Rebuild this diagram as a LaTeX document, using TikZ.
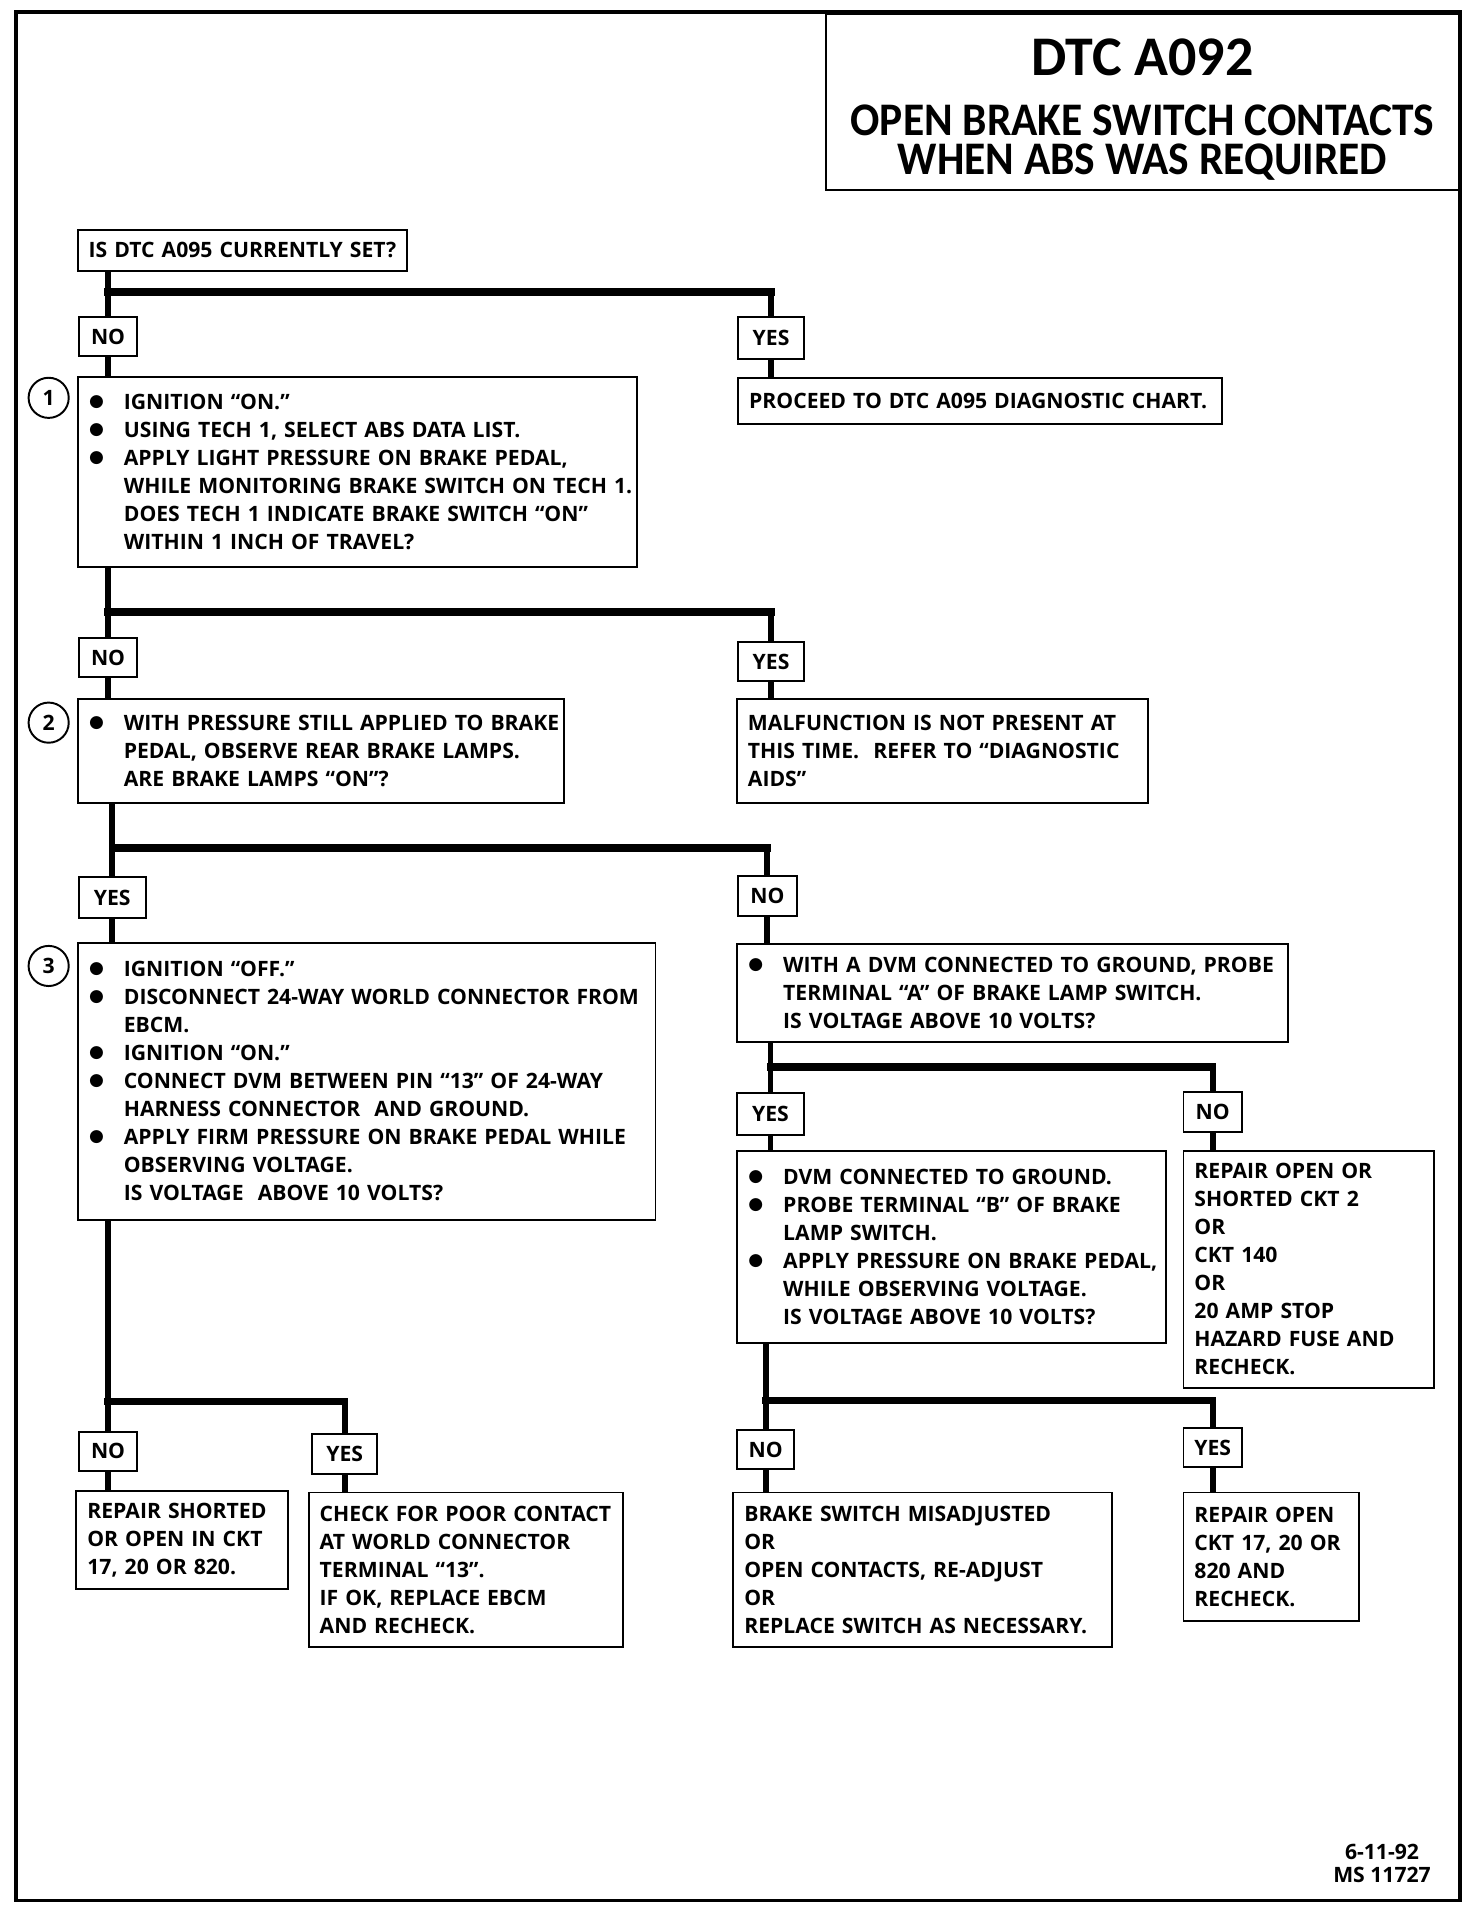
\documentclass[tikz,border=0pt]{standalone}
\usepackage{fontspec}
\usepackage{graphicx}
\setmainfont{Open Sans}
\newfontfamily\titlefont{Carlito}[FakeStretch=0.93]
\newfontfamily\titlefontb{Carlito}
\newfontfamily\dejavu{DejaVu Sans}
\newcommand\bu{\makebox[14.5pt][l]{\hspace{0.2pt}\raisebox{1.3pt}{\dejavu\fontsize{7}{7}\selectfont ●}}}
\newcommand\ind{\hspace*{14.5pt}}
\begin{document}
\begin{tikzpicture}[x=0.5pt,y=-0.5pt,
  every node/.style={font=\fontsize{8.7}{11.5}\selectfont\bfseries},
  box/.style={draw, line width=0.8pt, anchor=north west, inner xsep=0pt, inner ysep=0pt, align=left,
    execute at begin node={\leftskip=4.5pt\rightskip=-40pt plus 1fil\relax}},
  lbl/.style={draw, line width=0.8pt, anchor=north west, inner sep=0pt, align=center},
  num/.style={draw, circle, line width=0.8pt, minimum size=16.5pt, inner sep=0pt},
  conn/.style={line width=2.4pt},
  bar/.style={line width=3pt, line cap=rect},
  frame/.style={line width=1.4pt}]
\useasboundingbox (0,0) rectangle (1210,1570);
\draw[frame] (13,10) rectangle (1200,1562);
\node[draw, line width=1pt, anchor=north west, minimum width=261pt, minimum height=72.5pt, inner sep=0pt] (title) at (678,10) {};
\node[align=center, inner sep=0pt, font=\titlefont\bfseries\fontsize{19.2}{16}\selectfont] (titletext) at (939,90)
  {{\titlefontb\bfseries\fontsize{23}{16}\selectfont DTC A092}\\[8.5pt]OPEN BRAKE SWITCH CONTACTS\\WHEN ABS WAS REQUIRED};

% nodes
\node[box, minimum width=135.5pt, minimum height=17pt, text width=135.5pt] (q0) at (63,188) {IS DTC A095 CURRENTLY SET?};
\node[lbl, minimum width=24pt, minimum height=16pt] (n1) at (64,260) {NO};
\node[lbl, minimum width=27pt, minimum height=17pt] (y1) at (606,260) {YES};
\node[box, minimum width=230pt, minimum height=78pt, text width=230pt] (b1) at (63,309)
  {\bu IGNITION “ON.”\\
   \bu USING TECH 1, SELECT ABS DATA LIST.\\
   \bu APPLY LIGHT PRESSURE ON BRAKE PEDAL,\\
   \ind WHILE MONITORING BRAKE SWITCH ON TECH 1.\\
   \ind DOES TECH 1 INDICATE BRAKE SWITCH “ON”\\
   \ind WITHIN 1 INCH OF TRAVEL?};
\node[box, minimum width=199pt, minimum height=19pt, text width=199pt] (r1) at (606,310) {PROCEED TO DTC A095 DIAGNOSTIC CHART.};
\node[num] (c1) at (40,327) {1};

\node[lbl, minimum width=24pt, minimum height=16pt] (n2) at (64,524) {NO};
\node[lbl, minimum width=27pt, minimum height=16pt] (y2) at (606,527) {YES};
\node[box, minimum width=200pt, minimum height=42.5pt, text width=200pt] (b2) at (63,574)
  {\bu WITH PRESSURE STILL APPLIED TO BRAKE\\
   \ind PEDAL, OBSERVE REAR BRAKE LAMPS.\\
   \ind ARE BRAKE LAMPS “ON”?};
\node[box, minimum width=169pt, minimum height=42.5pt, text width=169pt] (r2) at (605,574)
  {MALFUNCTION IS NOT PRESENT AT\\
   THIS TIME.\ \ REFER TO “DIAGNOSTIC\\
   AIDS”};
\node[num] (c2) at (40,594) {2};

\node[lbl, minimum width=27.5pt, minimum height=17pt] (y3) at (64,720) {YES};
\node[lbl, minimum width=24pt, minimum height=16.5pt] (n3) at (606,719) {NO};
\node[box, minimum width=237.5pt, minimum height=114pt, text width=237.5pt] (b3) at (63,774)
  {\bu IGNITION “OFF.”\\
   \bu DISCONNECT 24-WAY WORLD CONNECTOR FROM\\
   \ind EBCM.\\
   \bu IGNITION “ON.”\\
   \bu CONNECT DVM BETWEEN PIN “13” OF 24-WAY\\
   \ind HARNESS CONNECTOR\ \ AND GROUND.\\
   \bu APPLY FIRM PRESSURE ON BRAKE PEDAL WHILE\\
   \ind OBSERVING VOLTAGE.\\
   \ind IS VOLTAGE\ \ ABOVE 10 VOLTS?};
\node[num] (c3) at (40,794) {3};
\node[box, minimum width=226.5pt, minimum height=40.5pt, text width=226.5pt] (bA) at (605,775)
  {\bu WITH A DVM CONNECTED TO GROUND, PROBE\\
   \ind TERMINAL “A” OF BRAKE LAMP SWITCH.\\
   \ind IS VOLTAGE ABOVE 10 VOLTS?};

\node[lbl, minimum width=27.5pt, minimum height=17pt] (y4) at (605,898) {YES};
\node[lbl, minimum width=24pt, minimum height=16.5pt] (n4) at (972,897) {NO};
\node[box, minimum width=176.5pt, minimum height=79pt, text width=176.5pt] (bB) at (605,945)
  {\bu DVM CONNECTED TO GROUND.\\
   \bu PROBE TERMINAL “B” OF BRAKE\\
   \ind LAMP SWITCH.\\
   \bu APPLY PRESSURE ON BRAKE PEDAL,\\
   \ind WHILE OBSERVING VOLTAGE.\\
   \ind IS VOLTAGE ABOVE 10 VOLTS?};
\node[box, minimum width=103pt, minimum height=97.5pt, text width=103pt] (bC) at (972,945)
  {REPAIR OPEN OR\\ SHORTED CKT 2\\ OR\\ CKT 140\\ OR\\ 20 AMP STOP\\ HAZARD FUSE AND\\ RECHECK.};

\node[lbl, minimum width=24pt, minimum height=16pt] (n5) at (64,1176) {NO};
\node[lbl, minimum width=26.5pt, minimum height=16.5pt] (y5) at (256,1178) {YES};
\node[box, minimum width=87pt, minimum height=40pt, text width=87pt] (rr1) at (62,1225)
  {REPAIR SHORTED\\ OR OPEN IN CKT\\ 17, 20 OR 820.};
\node[box, minimum width=129pt, minimum height=63.5pt, text width=129pt] (rr2) at (253,1226)
  {CHECK FOR POOR CONTACT\\ AT WORLD CONNECTOR\\ TERMINAL “13”.\\ IF OK, REPLACE EBCM\\ AND RECHECK.};
\node[lbl, minimum width=23.5pt, minimum height=16pt] (n6) at (605,1175) {NO};
\node[lbl, minimum width=24pt, minimum height=16pt] (y6) at (972,1173) {YES};
\node[box, minimum width=155.5pt, minimum height=63.5pt, text width=155.5pt] (rr3) at (602,1226)
  {BRAKE SWITCH MISADJUSTED\\ OR\\ OPEN CONTACTS, RE-ADJUST\\ OR\\ REPLACE SWITCH AS NECESSARY.};
\node[box, minimum width=72pt, minimum height=53pt, text width=72pt] (rr4) at (972,1226)
  {REPAIR OPEN\\ CKT 17, 20 OR\\ 820 AND\\ RECHECK.};

\node[align=center, inner sep=0pt, font=\fontsize{8.7}{9.5}\selectfont\bfseries] (date) at (1136,1532) {6-11-92\\MS 11727};

% junctions
\coordinate (j1) at (0,240);
\coordinate (j2) at (0,503);
\coordinate (j3) at (0,697);
\coordinate (j4) at (0,877);
\coordinate (j5) at (0,1152);
\coordinate (j6) at (0,1151);

% connectors
\draw[conn] (q0.south -| n1) -- (n1.north);
\draw[bar] (j1 -| n1) -- (j1 -| y1);
\draw[conn] (j1 -| y1) -- (y1.north);
\draw[conn] (n1.south) -- (b1.north -| n1);
\draw[conn] (y1.south) -- (r1.north -| y1);

\draw[conn] (b1.south -| n2) -- (n2.north);
\draw[bar] (j2 -| n2) -- (j2 -| y2);
\draw[conn] (j2 -| y2) -- (y2.north);
\draw[conn] (n2.south) -- (b2.north -| n2);
\draw[conn] (y2.south) -- (r2.north -| y2);

\draw[conn] (b2.south -| y3) -- (y3.north);
\draw[bar] (j3 -| y3) -- (j3 -| n3);
\draw[conn] (j3 -| n3) -- (n3.north);
\draw[conn] (y3.south) -- (b3.north -| y3);
\draw[conn] (n3.south) -- (bA.north -| n3);

\draw[conn] (bA.south -| y4) -- (y4.north);
\draw[bar] (j4 -| y4) -- (j4 -| n4);
\draw[conn] (j4 -| n4) -- (n4.north);
\draw[conn] (y4.south) -- (bB.north -| y4);
\draw[conn] (n4.south) -- (bC.north -| n4);

\draw[conn] (b3.south -| n5) -- (n5.north);
\draw[bar] (j5 -| n5) -- (j5 -| y5);
\draw[conn] (j5 -| y5) -- (y5.north);
\draw[conn] (n5.south) -- (rr1.north -| n5);
\draw[conn] (y5.south) -- (rr2.north -| y5);

\draw[conn] (bB.south -| n6) -- (n6.north);
\draw[bar] (j6 -| n6) -- (j6 -| y6);
\draw[conn] (j6 -| y6) -- (y6.north);
\draw[conn] (n6.south) -- (rr3.north -| n6);
\draw[conn] (y6.south) -- (rr4.north -| y6);
\end{tikzpicture}
\end{document}
